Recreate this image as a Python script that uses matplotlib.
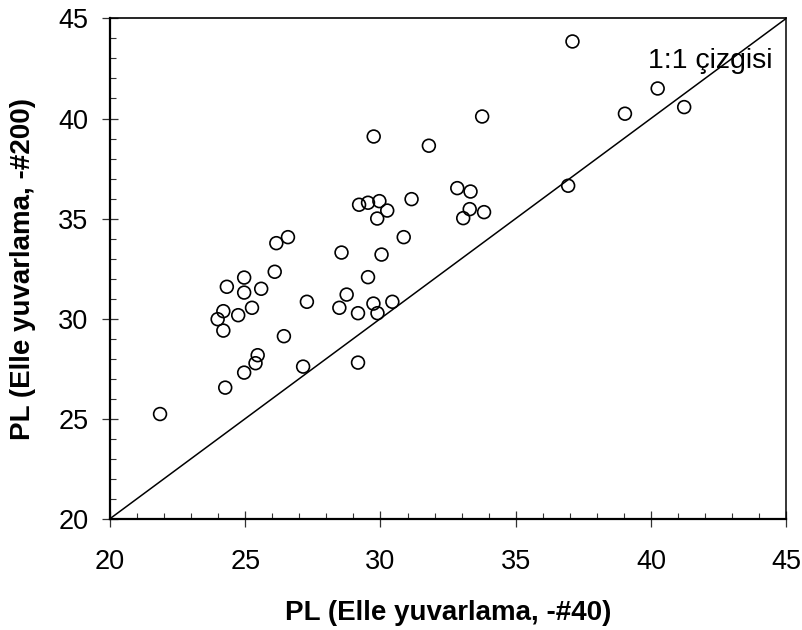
import matplotlib
matplotlib.use("Agg")
import matplotlib.pyplot as plt
from matplotlib.ticker import MultipleLocator

plt.rcParams['font.family'] = ['Liberation Sans', 'DejaVu Sans']

# PL values: hand rolling on sieve #40 (x) vs sieve #200 (y)
pl_40 = [21.85, 24.26, 24.96, 25.38, 25.46, 27.14, 26.43, 29.17, 23.98, 24.19,
         24.19, 24.74, 25.25, 24.96, 24.96, 24.32, 25.59, 26.09, 27.28, 28.48,
         28.75, 29.17, 29.74, 29.89, 30.44, 29.54, 28.56, 30.04, 26.15, 26.58,
         30.86, 29.75, 31.79, 29.21, 29.54, 29.96, 30.25, 29.88, 31.15, 37.10,
         33.76, 40.25, 39.04, 41.23, 36.94, 32.84, 33.33, 33.30, 33.06, 33.83]
pl_200 = [25.23, 26.55, 27.30, 27.77, 28.17, 27.60, 29.12, 27.80, 29.97, 29.40,
          30.37, 30.17, 30.54, 31.30, 32.05, 31.59, 31.49, 32.34, 30.84, 30.54,
          31.20, 30.27, 30.75, 30.27, 30.84, 32.07, 33.30, 33.20, 33.77, 34.07,
          34.07, 39.10, 38.64, 35.69, 35.79, 35.87, 35.40, 35.00, 35.97, 43.85,
          40.10, 41.50, 40.24, 40.57, 36.64, 36.52, 36.35, 35.47, 35.02, 35.32]

axis_min, axis_max = 20, 45
major_ticks = [20, 25, 30, 35, 40, 45]
line_label = "1:1 çizgisi"
x_title = "PL (Elle yuvarlama, -#40)"
y_title = "PL (Elle yuvarlama, -#200)"

fig = plt.figure(figsize=(8.03, 6.30), dpi=100)
ax = fig.add_axes([0.137, 0.1767, 0.842, 0.794])

# 1:1 reference line
ax.plot([axis_min, axis_max], [axis_min, axis_max], color='black', lw=1.1, zorder=2)
ax.text(39.9, 42.5, line_label, fontsize=20.5, ha='left', va='baseline', zorder=3)

ax.scatter(pl_40, pl_200, s=85, facecolors='none', edgecolors='black',
           linewidths=1.2, zorder=4, clip_on=False)

ax.set_xlim(axis_min, axis_max)
ax.set_ylim(axis_min, axis_max)
ax.set_xticks(major_ticks)
ax.set_yticks(major_ticks)
ax.xaxis.set_minor_locator(MultipleLocator(1))
ax.yaxis.set_minor_locator(MultipleLocator(1))

ax.tick_params(which='major', direction='inout', length=11, width=0.9,
               labelsize=19.5, color='#333333')
ax.tick_params(axis='x', which='major', pad=16)
ax.tick_params(axis='y', which='major', pad=10)
ax.tick_params(which='minor', direction='in', length=4, width=0.8, color='#333333')

ax.spines['left'].set_linewidth(1.6)
ax.spines['bottom'].set_linewidth(1.6)
ax.spines['top'].set_linewidth(1.2)
ax.spines['right'].set_linewidth(1.1)

ax.set_xlabel(x_title, fontsize=20, fontweight='bold', labelpad=18)
ax.set_ylabel(y_title, fontsize=20, fontweight='bold', labelpad=16)

fig.savefig("out.png", dpi=100)
